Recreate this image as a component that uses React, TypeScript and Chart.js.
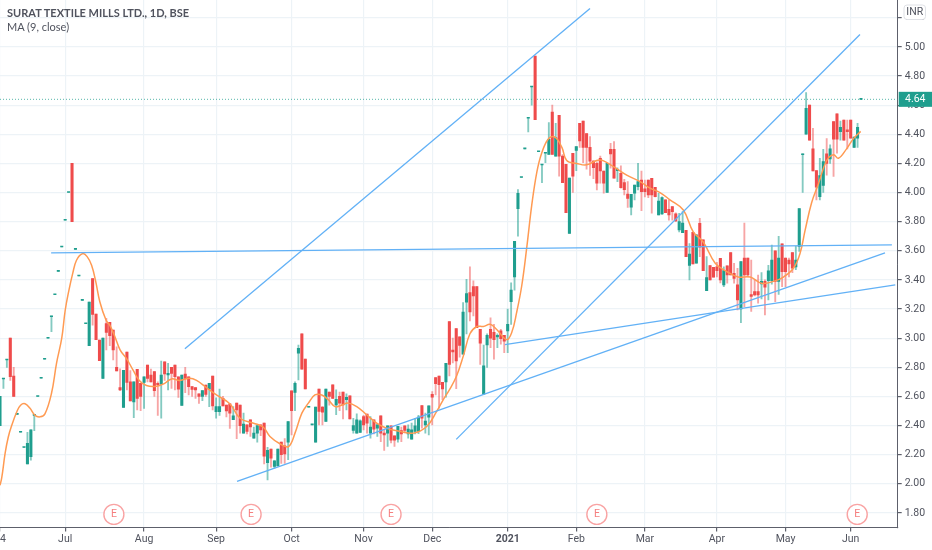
import React, { useEffect, useRef } from 'react';
import { Chart, registerables } from 'chart.js';

Chart.register(...registerables);

// daily candles (bar 0 sits on the left edge)
const opens = [
  2.40,2.72,2.85,3.00,2.74,2.477,2.354,2.25,2.136,2.186,
  2.47,2.6,2.725,2.855,3.0,3.148,3.298,3.459,3.626,3.81,
  4.0,4.2,3.61,3.427,3.26,3.10,2.948,3.41,3.165,2.987,
  2.724,3.10,3.108,3.056,2.80,2.66,2.525,2.905,2.70,2.563,
  2.786,2.69,2.697,2.816,2.747,2.77,2.69,2.685,2.838,2.747,
  2.80,2.816,2.735,2.538,2.754,2.735,2.667,2.66,2.617,2.60,
  2.678,2.65,2.74,2.495,2.495,2.587,2.54,2.55,2.44,2.554,
  2.54,2.348,2.405,2.44,2.314,2.348,2.405,2.417,2.146,2.238,
  2.12,2.123,2.286,2.26,2.286,2.638,2.627,2.897,3.03,2.856,
  2.526,2.405,2.286,2.65,2.526,2.428,2.63,2.68,2.542,2.60,
  2.63,2.577,2.604,2.366,2.348,2.352,2.462,2.478,2.348,2.44,
  2.382,2.467,2.348,2.348,2.398,2.33,2.307,2.366,2.398,2.343,
  2.307,2.36,2.36,2.538,2.405,2.458,2.615,2.73,2.74,2.696,
  2.70,3.114,2.919,3.065,3.01,2.89,3.248,3.313,3.354,3.354,
  3.06,2.615,2.953,3.06,3.04,3.008,3.05,3.02,3.05,3.25,
  3.42,3.89,4.104,4.30,4.51,4.725,4.937,4.28,4.19,4.27,
  4.262,4.553,4.25,4.53,4.25,4.194,3.72,4.27,4.29,4.475,
  4.49,4.404,4.31,4.216,4.2,4.235,4.148,4.0,4.297,4.297,
  4.15,4.132,4.068,3.99,3.9,3.995,4.04,4.086,4.025,4.086,
  4.098,4.036,3.846,3.853,3.95,3.885,3.904,3.853,3.743,3.725,
  3.74,3.50,3.727,3.515,3.789,3.675,3.327,3.498,3.487,3.49,
  3.549,3.366,3.496,3.588,3.445,3.366,3.2,3.55,3.55,3.30,
  3.32,3.32,3.373,3.39,3.395,3.395,3.6,3.39,3.647,3.55,
  3.537,3.588,3.49,3.63,4.26,4.4,4.6,4.3,4.15,3.972,
  4.048,4.265,4.23,4.487,4.54,4.418,4.498,4.43,4.498,4.31,4.373,4.64,
];
const closes = [
  2.60,2.725,2.855,2.735,2.60,2.477,2.354,2.25,2.278,2.37,
  2.477,2.6,2.725,2.855,3.0,3.152,3.298,3.459,3.626,3.81,
  4.0,3.8,3.61,3.427,3.26,3.10,3.248,3.163,2.99,2.845,
  3.0,3.04,3.017,2.92,2.775,2.645,2.78,2.696,2.57,2.70,
  2.587,2.60,2.735,2.724,2.70,2.64,2.68,2.747,2.754,2.758,
  2.758,2.735,2.65,2.747,2.724,2.667,2.648,2.644,2.60,2.64,
  2.614,2.69,2.534,2.53,2.53,2.534,2.50,2.485,2.467,2.508,
  2.40,2.41,2.36,2.39,2.348,2.40,2.37,2.19,2.23,2.176,
  2.158,2.238,2.2,2.206,2.428,2.503,2.69,2.93,2.787,2.652,
  2.526,2.405,2.526,2.497,2.492,2.65,2.60,2.586,2.58,2.554,
  2.542,2.593,2.446,2.40,2.44,2.432,2.405,2.416,2.39,2.375,
  2.405,2.348,2.336,2.398,2.30,2.30,2.394,2.343,2.366,2.375,
  2.37,2.398,2.458,2.45,2.43,2.535,2.595,2.687,2.68,2.652,
  2.828,2.82,2.905,2.844,2.95,3.18,3.306,3.18,3.29,3.072,
  2.965,2.81,3.02,3.0,2.99,3.02,2.997,2.98,3.095,3.33,
  3.665,3.995,4.104,4.30,4.514,4.73,4.50,4.28,4.194,4.27,
  4.365,4.262,4.377,4.25,4.068,3.862,4.10,4.113,4.315,4.354,
  4.31,4.31,4.216,4.17,4.064,4.148,4.064,4.2,4.265,4.098,
  4.16,4.034,4.02,3.96,3.988,4.052,4.075,4.006,4.006,3.984,
  3.984,3.972,3.942,3.965,3.862,3.846,3.869,3.805,3.80,3.79,
  3.56,3.578,3.51,3.709,3.624,3.464,3.416,3.40,3.418,3.464,
  3.40,3.464,3.434,3.434,3.41,3.263,3.526,3.434,3.434,3.286,
  3.297,3.297,3.39,3.35,3.462,3.537,3.39,3.55,3.457,3.457,
  3.51,3.48,3.537,3.89,4.265,4.578,4.36,4.148,4.036,4.116,
  4.212,4.2,4.3,4.366,4.366,4.448,4.36,4.418,4.373,4.38,4.448,4.64,
];
const highs = [
  2.60,2.725,2.855,3.00,2.80,2.477,2.354,2.25,2.354,2.37,
  2.477,2.6,2.725,2.855,3.0,3.152,3.298,3.459,3.626,3.81,
  4.0,4.2,3.61,3.427,3.26,3.10,3.248,3.41,3.165,2.987,
  3.0,3.136,3.108,3.056,2.94,2.79,2.78,2.905,2.777,2.70,
  2.786,2.69,2.735,2.816,2.788,2.77,2.70,2.843,2.838,2.827,
  2.80,2.816,2.735,2.747,2.80,2.735,2.667,2.66,2.617,2.64,
  2.678,2.69,2.74,2.59,2.65,2.60,2.54,2.55,2.53,2.554,
  2.54,2.485,2.405,2.44,2.39,2.40,2.405,2.417,2.25,2.238,
  2.16,2.238,2.286,2.31,2.428,2.638,2.70,2.952,3.03,2.856,
  2.526,2.405,2.526,2.65,2.53,2.65,2.63,2.68,2.645,2.63,
  2.63,2.618,2.604,2.45,2.48,2.44,2.47,2.478,2.462,2.44,
  2.41,2.467,2.375,2.398,2.398,2.33,2.394,2.39,2.398,2.405,
  2.417,2.45,2.47,2.538,2.485,2.535,2.634,2.73,2.74,2.696,
  2.828,3.114,3.0,3.065,3.01,3.244,3.404,3.49,3.393,3.354,
  3.06,2.953,3.03,3.14,3.095,3.03,3.06,3.02,3.2,3.38,
  3.665,4.02,4.104,4.30,4.514,4.73,4.937,4.28,4.194,4.27,
  4.48,4.60,4.475,4.53,4.26,4.194,4.10,4.27,4.315,4.475,
  4.49,4.404,4.384,4.22,4.21,4.25,4.148,4.2,4.338,4.35,
  4.17,4.183,4.09,4.075,3.988,4.052,4.2,4.148,4.086,4.086,
  4.098,4.036,3.995,3.97,3.95,3.95,3.904,3.86,3.858,3.87,
  3.74,3.65,3.727,3.709,3.823,3.675,3.56,3.498,3.487,3.52,
  3.549,3.49,3.496,3.588,3.514,3.48,3.526,3.79,3.55,3.537,
  3.40,3.434,3.45,3.40,3.50,3.64,3.6,3.7,3.647,3.55,
  3.55,3.588,3.63,3.89,4.265,4.686,4.6,4.44,4.15,4.235,
  4.297,4.37,4.327,4.487,4.54,4.49,4.498,4.498,4.498,4.38,4.475,4.64,
];
const lows = [
  2.40,2.655,2.80,2.71,2.60,2.477,2.354,2.25,2.136,2.163,
  2.365,2.6,2.725,2.855,3.0,3.045,3.298,3.459,3.626,3.81,
  4.0,3.8,3.61,3.427,3.26,3.10,2.948,3.09,2.99,2.845,
  2.724,2.92,2.948,2.85,2.775,2.64,2.525,2.645,2.57,2.454,
  2.507,2.503,2.518,2.70,2.70,2.60,2.47,2.45,2.71,2.644,
  2.655,2.644,2.593,2.538,2.626,2.61,2.60,2.587,2.552,2.571,
  2.60,2.53,2.507,2.45,2.47,2.534,2.46,2.38,2.44,2.31,
  2.348,2.348,2.343,2.325,2.314,2.286,2.33,2.137,2.027,2.114,
  2.108,2.123,2.14,2.14,2.165,2.336,2.503,2.714,2.787,2.652,
  2.526,2.405,2.286,2.405,2.405,2.428,2.54,2.586,2.474,2.503,
  2.446,2.508,2.446,2.348,2.348,2.352,2.37,2.348,2.314,2.343,
  2.325,2.29,2.23,2.256,2.28,2.256,2.286,2.29,2.35,2.314,
  2.307,2.343,2.345,2.382,2.348,2.336,2.405,2.61,2.52,2.577,
  2.595,2.74,2.83,2.654,2.87,2.89,3.03,3.118,3.152,3.072,
  2.82,2.615,2.8,2.935,2.855,2.935,2.958,2.9,2.9,3.095,
  3.33,3.70,4.104,4.30,4.416,4.6,4.50,4.28,4.068,4.205,
  4.262,4.262,4.25,4.113,4.068,3.862,3.72,4.0,4.15,4.31,
  4.205,4.16,4.118,4.095,4.018,4.064,3.995,4.0,4.167,4.098,
  4.075,4.03,3.984,3.897,3.846,3.95,4.018,3.876,3.97,3.964,
  3.858,3.97,3.846,3.85,3.862,3.81,3.81,3.80,3.73,3.725,
  3.56,3.40,3.51,3.515,3.56,3.464,3.327,3.40,3.418,3.42,
  3.38,3.354,3.377,3.434,3.377,3.194,3.107,3.217,3.42,3.183,
  3.29,3.24,3.27,3.16,3.263,3.37,3.25,3.3,3.354,3.354,
  3.42,3.45,3.47,3.595,4.0,4.4,4.36,4.148,3.95,3.95,
  4.0,4.12,4.2,4.11,4.27,4.36,4.36,4.3,4.373,4.31,4.31,4.64,
];

// MA (9, close) as it reads on the chart
const maBars = [
  0,0.5,1.5,2.4,3.4,4.9,6,7.3,8.7,10.2,11.7,13.1,15,16.5,18,19,20.1,21.2,22.3,24,25.4,
  26.7,27.9,29.1,30.9,32,33.5,35,36.9,38.8,40.6,42.7,45.6,48,50,52.4,55.3,57.3,60.2,63.1,67,
  70,73.9,76.7,78.7,81.6,84.1,86,88,89.9,91.8,93.8,95.7,97.7,99.6,101.5,104,106.9,109.8,112.7,116.6,
  120.5,124.4,127.3,129.2,131,133.1,135.1,137,139,140.9,142.9,144.8,147.7,149.2,150.6,152.1,153.6,155,156.5,157.9,
  159.9,161.8,163.8,165.2,168.1,171,174.9,178.8,182.7,186.6,189.5,192.4,195.3,199.2,202.1,205,208.5,211.9,215.2,218.7,
  222,225.5,228.4,231.3,233.2,234.7,236.6,238.6,241,243,244.4,246.8,248.8,250.9,
];
const maValues = [
  1.99,2.04,2.21,2.32,2.40,2.495,2.54,2.55,2.52,2.47,2.46,2.48,2.62,2.83,3.0,3.19,3.33,3.445,3.535,3.58,3.56,
  3.50,3.39,3.25,3.125,3.09,3.01,2.92,2.86,2.78,2.71,2.675,2.67,2.69,2.72,2.71,2.725,2.71,2.66,2.61,2.55,
  2.45,2.416,2.39,2.325,2.275,2.256,2.348,2.485,2.554,2.61,2.61,2.577,2.53,2.54,2.554,2.53,2.474,2.416,2.382,2.36,
  2.348,2.394,2.497,2.577,2.645,2.74,2.88,3.03,3.08,3.08,3.095,3.06,2.99,3.04,3.175,3.36,3.63,3.91,4.14,4.27,
  4.37,4.38,4.31,4.22,4.2,4.19,4.224,4.178,4.12,4.075,4.03,4.0,3.95,3.88,3.73,3.66,3.515,3.457,3.42,3.42,
  3.377,3.39,3.42,3.48,3.58,3.74,3.93,4.06,4.22,4.26,4.235,4.30,4.37,4.42,
];

// drawn trend lines: [bar, price, bar, price]
const trendLines = [
  [53.9, 2.928, 172, 5.264],
  [14.9, 3.586, 260, 3.64],
  [69.1, 2.017, 258, 3.586],
  [133, 2.305, 250.7, 5.085],
  [147.2, 2.955, 261, 3.366],
];

const earningsBars = [33.2, 73.2, 114, 174, 249.9];
const earningsLevel = 1.79;
const lastPrice = 4.64;

const monthBars = [0, 19, 42, 63, 85, 106, 126, 148, 168, 188, 209, 229, 248];
const monthLabels = ['24', 'Jul', 'Aug', 'Sep', 'Oct', 'Nov', 'Dec', '2021', 'Feb', 'Mar', 'Apr', 'May', 'Jun'];
const priceTicks = [1.8, 2.0, 2.2, 2.4, 2.6, 2.8, 3.0, 3.2, 3.4, 3.6, 3.8, 4.0, 4.2, 4.4, 4.6, 4.8, 5.0, 5.2];

const UP = '#1f9e8e';
const DOWN = '#ef4b4b';
const UP_WICK = 'rgba(31,158,142,0.55)';
const DOWN_WICK = 'rgba(239,75,75,0.5)';
const TREND = '#62b1f6';
const GRID = '#edf3f7';
const AXIS = '#5d606b';
const TEXT = '#50535e';

const isUp = (i: number) => closes[i] >= opens[i];

// price tag, INR button and the letters inside the earnings marks
const overlay = {
  id: 'overlay',
  afterDraw(chart: any) {
    const { ctx } = chart;
    const x = chart.scales.x;
    const y = chart.scales.y;
    ctx.save();

    const priceY = y.getPixelForValue(lastPrice);
    ctx.fillStyle = UP;
    ctx.fillRect(x.right + 1, priceY - 7.5, 35, 15);
    ctx.fillStyle = '#ffffff';
    ctx.font = '10.5px Roboto';
    ctx.textBaseline = 'middle';
    ctx.textAlign = 'left';
    ctx.fillText(lastPrice.toFixed(2), 905, priceY + 0.5);

    ctx.beginPath();
    ctx.roundRect(904, 5, 21.5, 14.5, 3);
    ctx.fillStyle = '#ffffff';
    ctx.fill();
    ctx.strokeStyle = '#dfe1e6';
    ctx.lineWidth = 1;
    ctx.stroke();
    ctx.fillStyle = TEXT;
    ctx.textAlign = 'center';
    ctx.fillText('INR', 914.7, 12.5);

    ctx.fillStyle = '#f57f7f';
    ctx.font = '10.5px Roboto';
    earningsBars.forEach((bar) => {
      ctx.fillText('E', x.getPixelForValue(bar), y.getPixelForValue(earningsLevel) - 0.5);
    });
    ctx.restore();
  },
};

export default function App() {
  const canvasRef = useRef<HTMLCanvasElement | null>(null);

  useEffect(() => {
    document.body.style.margin = '0';
    if (!canvasRef.current) return;

    const bars = opens.map((_, i) => i);
    const lineDefaults = { type: 'line', pointRadius: 0, fill: false };

    const chart = new Chart(canvasRef.current, {
      type: 'bar',
      plugins: [overlay],
      data: {
        datasets: [
          {
            ...lineDefaults,
            label: 'Last',
            data: [{ x: 0, y: lastPrice }, { x: 261.7, y: lastPrice }],
            borderColor: 'rgba(31,158,142,0.75)',
            borderWidth: 1,
            borderDash: [1, 2],
            order: 5,
          },
          {
            label: 'Wicks',
            data: bars.map((i) => ({ x: i, y: [lows[i], highs[i]] })),
            backgroundColor: bars.map((i) => (isUp(i) ? UP_WICK : DOWN_WICK)),
            barThickness: 1.2,
            grouped: false,
            order: 4,
          },
          {
            label: 'Bodies',
            data: bars.map((i) => ({ x: i, y: [opens[i], closes[i]] })),
            backgroundColor: bars.map((i) => (isUp(i) ? UP : DOWN)),
            barThickness: 2.4,
            minBarLength: 0.9,
            grouped: false,
            order: 3,
          },
          {
            ...lineDefaults,
            label: 'MA (9, close)',
            data: maBars.map((bar, i) => ({ x: bar, y: maValues[i] })),
            borderColor: '#ff9a52',
            borderWidth: 1.5,
            tension: 0.4,
            order: 2,
          },
          ...trendLines.map((t, i) => ({
            ...lineDefaults,
            label: 'Trend ' + (i + 1),
            data: [{ x: t[0], y: t[1] }, { x: t[2], y: t[3] }],
            borderColor: TREND,
            borderWidth: 1.3,
            order: 1,
          })),
          {
            ...lineDefaults,
            label: 'Earnings',
            data: earningsBars.map((bar) => ({ x: bar, y: earningsLevel })),
            showLine: false,
            pointRadius: 10,
            pointBackgroundColor: '#ffffff',
            pointBorderColor: '#f9a3a3',
            pointBorderWidth: 1.4,
            order: 0,
          },
        ] as any,
      },
      options: {
        responsive: false,
        animation: false,
        events: [],
        layout: { padding: 0, autoPadding: false },
        plugins: { legend: { display: false }, tooltip: { enabled: false } },
        scales: {
          x: {
            type: 'linear',
            min: 0,
            max: 261.7,
            offset: false,
            grid: { color: GRID, lineWidth: 1.2, offset: false, tickLength: 4, tickColor: AXIS },
            border: { color: AXIS, width: 1 },
            ticks: {
              autoSkip: false,
              maxRotation: 0,
              color: TEXT,
              padding: 2,
              font: (c: any) => ({
                family: 'Roboto',
                size: 10.5,
                weight: c.tick && c.tick.value === 148 ? 'bold' : 'normal',
              }),
              callback: (v: any) => monthLabels[monthBars.indexOf(v)],
            },
            afterBuildTicks: (axis: any) => {
              axis.ticks = monthBars.map((value) => ({ value }));
            },
            afterFit: (axis: any) => {
              axis.height = 22.5;
              axis.paddingLeft = 0;
              axis.paddingRight = 0;
            },
          },
          y: {
            type: 'linear',
            position: 'right',
            min: 1.7,
            max: 5.322,
            grid: { color: GRID, lineWidth: 1.2, tickLength: 4, tickColor: AXIS },
            border: { color: AXIS, width: 1 },
            ticks: {
              color: TEXT,
              padding: 3,
              font: { family: 'Roboto', size: 10.5 },
              callback: (v: any) => Number(v).toFixed(2),
            },
            afterBuildTicks: (axis: any) => {
              axis.ticks = priceTicks.map((value) => ({ value }));
            },
            afterFit: (axis: any) => {
              axis.width = 34.3;
              axis.paddingTop = 0;
              axis.paddingBottom = 0;
            },
          },
        },
      },
    } as any);

    return () => chart.destroy();
  }, []);

  return (
    <div style={{ position: 'relative', width: 932, height: 550 }}>
      <canvas ref={canvasRef} width={932} height={550} style={{ display: 'block' }} />
      <div style={{ position: 'absolute', left: 7, top: 6, color: TEXT, fontFamily: 'Lato', fontSize: 11, lineHeight: '14px', whiteSpace: 'nowrap' }}>
        <div style={{ fontWeight: 700 }}>SURAT TEXTILE MILLS LTD., 1D, BSE</div>
        <div>MA (9, close)</div>
      </div>
    </div>
  );
}
